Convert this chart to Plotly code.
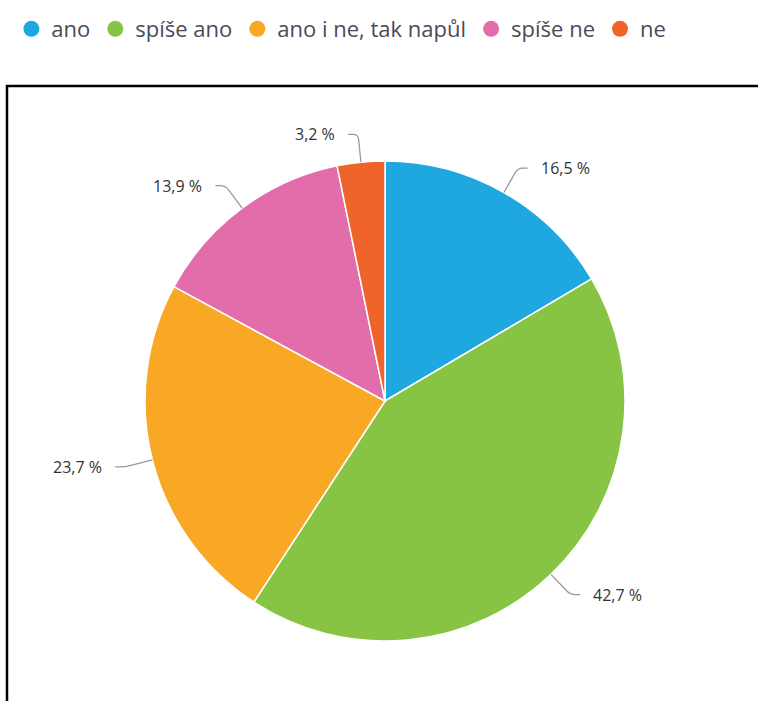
import math
import plotly.graph_objects as go

# Survey answers and their shares (%)
categories = ["ano", "spíše ano", "ano i ne, tak napůl", "spíše ne", "ne"]
shares = [16.5, 42.7, 23.7, 13.9, 3.2]
colors = ["#1fa8df", "#88c443", "#f8a824", "#e36caa", "#ef642a"]

W, H = 758, 701
CX, CY, R = 385, 401, 240          # pie centre and radius in pixels
ELBOW, HSEG, GAP = 28, 10, 11      # connector geometry


def px(x):
    return x / W


def py(y):
    return 1 - y / H


def fmt(v):
    return f"{v:.1f}".replace(".", ",") + " %"


fig = go.Figure()

fig.add_trace(go.Pie(
    labels=categories,
    values=shares,
    sort=False,
    direction="clockwise",
    rotation=0,
    marker=dict(colors=colors, line=dict(color="white", width=1.5)),
    textinfo="none",
    hoverinfo="label+percent",
    showlegend=False,
    domain=dict(x=[px(CX - R), px(CX + R)], y=[py(CY + R), py(CY - R)]),
))

# legend entries with round markers
for name, col in zip(categories, colors):
    fig.add_trace(go.Scatter(
        x=[None], y=[None], mode="markers", name=name,
        marker=dict(color=col, size=16, symbol="circle"),
    ))

# outside labels with bent connector lines
shapes = []
annotations = []
total = sum(shares)
cum = 0.0
for v in shares:
    mid = 90 - (cum + v / 2) / total * 360
    cum += v
    a = math.radians(mid)
    c, s = math.cos(a), math.sin(a)
    side = 1 if c >= 0 else -1
    ex, ey = CX + R * c, CY - R * s
    bx, by = CX + (R + ELBOW) * c, CY - (R + ELBOW) * s
    p1x, p1y = CX + (R + ELBOW - 5) * c, CY - (R + ELBOW - 5) * s
    p2x, p2y = bx + side * 5, by
    endx = bx + side * HSEG
    path = (f"M {px(ex)},{py(ey)} L {px(p1x)},{py(p1y)} "
            f"Q {px(bx)},{py(by)} {px(p2x)},{py(p2y)} L {px(endx)},{py(by)}")
    shapes.append(dict(type="path", xref="paper", yref="paper", path=path,
                       line=dict(color="#9a9a9a", width=1.3)))
    annotations.append(dict(
        x=px(endx + side * GAP), y=py(by), xref="paper", yref="paper",
        text=fmt(v), showarrow=False,
        xanchor="left" if side > 0 else "right", yanchor="middle",
        font=dict(family="Open Sans, sans-serif", size=16, color="#333333"),
    ))

# frame around the chart area
shapes.append(dict(type="rect", xref="paper", yref="paper",
                   x0=px(7), x1=1.02, y0=-0.02, y1=py(86),
                   line=dict(color="black", width=2.5)))

fig.update_layout(
    width=W, height=H,
    margin=dict(l=0, r=0, t=0, b=0),
    paper_bgcolor="white", plot_bgcolor="white",
    xaxis=dict(visible=False), yaxis=dict(visible=False),
    showlegend=True,
    legend=dict(
        orientation="h", x=0.015, y=py(8), xanchor="left", yanchor="top",
        font=dict(family="Open Sans, sans-serif", size=22, color="#4b4b57"),
        itemsizing="trace", bgcolor="rgba(0,0,0,0)",
    ),
    shapes=shapes,
    annotations=annotations,
)

fig.write_html("out.html")
